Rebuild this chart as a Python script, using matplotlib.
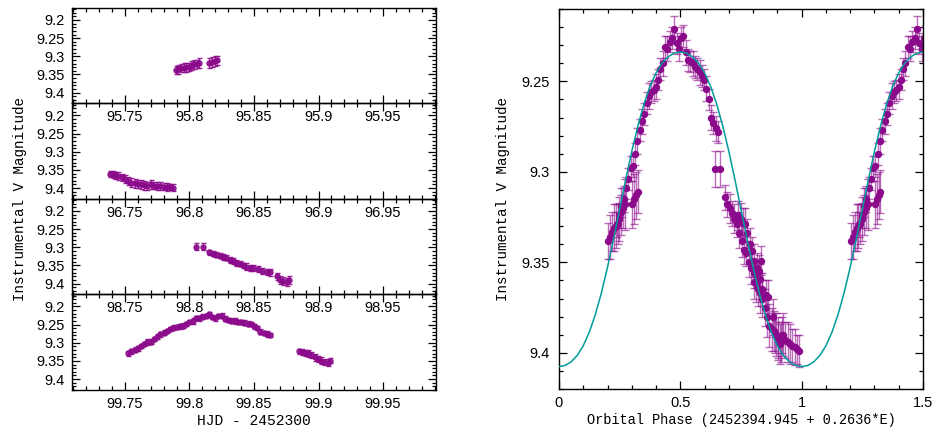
import matplotlib.pyplot as plt
import numpy as np
from matplotlib.ticker import MultipleLocator, FuncFormatter

# night of 95 (HJD - 2452300)
t1 = [95.7895, 95.7915, 95.7935, 95.7955, 95.7975, 95.7995, 95.8015, 95.8035, 95.8055, 95.8075,
      95.8155, 95.8175, 95.8195, 95.8212]
m1 = [9.338, 9.336, 9.333, 9.331, 9.330, 9.329, 9.326, 9.322, 9.320, 9.318,
      9.318, 9.315, 9.313, 9.311]
e1 = [0.010, 0.012, 0.011, 0.013, 0.012, 0.011, 0.012, 0.013, 0.011, 0.014,
      0.013, 0.014, 0.013, 0.012]

# night of 96
t2 = [96.7387, 96.7405, 96.7425, 96.7450, 96.7475, 96.7500, 96.7525, 96.7550, 96.7575, 96.7600,
      96.7625, 96.7650, 96.7675, 96.7700, 96.7725, 96.7750, 96.7775, 96.7800, 96.7825, 96.7850, 96.7869]
m2 = [9.361, 9.362, 9.365, 9.367, 9.370, 9.375, 9.380, 9.385, 9.387, 9.388,
      9.390, 9.392, 9.394, 9.390, 9.393, 9.394, 9.395, 9.396, 9.397, 9.398, 9.399]
e2 = [0.009, 0.010, 0.009, 0.011, 0.010, 0.010, 0.011, 0.012, 0.012, 0.011,
      0.012, 0.012, 0.011, 0.012, 0.010, 0.011, 0.011, 0.009, 0.010, 0.008, 0.009]

# night of 98
t3 = [98.8051, 98.8103, 98.8155, 98.8181, 98.8207, 98.8233, 98.8260, 98.8285, 98.8311, 98.8338,
      98.8363, 98.8389, 98.8416, 98.8442, 98.8467, 98.8494, 98.8533, 98.8559, 98.8598, 98.8624,
      98.8676, 98.8702, 98.8728, 98.8754, 98.8772]
m3 = [9.2986, 9.2986, 9.314, 9.318, 9.320, 9.323, 9.326, 9.329, 9.334, 9.338,
      9.343, 9.345, 9.350, 9.353, 9.356, 9.357, 9.359, 9.365, 9.368, 9.369,
      9.380, 9.389, 9.393, 9.395, 9.390]
e3 = [0.010, 0.010, 0.007, 0.007, 0.008, 0.007, 0.008, 0.007, 0.008, 0.009,
      0.008, 0.007, 0.008, 0.009, 0.008, 0.007, 0.008, 0.009, 0.008, 0.009,
      0.010, 0.011, 0.010, 0.011, 0.010]

# night of 99
t4 = [99.7525, 99.7550, 99.7575, 99.7600, 99.7625, 99.7650, 99.7675, 99.7700, 99.7725, 99.7750,
      99.7775, 99.7800, 99.7825, 99.7850, 99.7875, 99.7900, 99.7925, 99.7950, 99.7975, 99.8000,
      99.8025, 99.8050, 99.8075, 99.8100, 99.8125, 99.8150, 99.8175, 99.8200, 99.8225, 99.8250,
      99.8275, 99.8300, 99.8325, 99.8350, 99.8375, 99.8400, 99.8425, 99.8450, 99.8475, 99.8500,
      99.8525, 99.8550, 99.8575, 99.8600, 99.8625,
      99.8845, 99.8870, 99.8895, 99.8920, 99.8945, 99.8970, 99.8995, 99.9020, 99.9045, 99.9070, 99.9092]
m4 = [9.329, 9.324, 9.319, 9.315, 9.309, 9.304, 9.298, 9.297, 9.290, 9.283,
      9.277, 9.272, 9.268, 9.262, 9.258, 9.256, 9.255, 9.253, 9.249, 9.243,
      9.240, 9.231, 9.232, 9.228, 9.226, 9.221, 9.229, 9.232, 9.226, 9.225,
      9.234, 9.238, 9.239, 9.240, 9.242, 9.243, 9.245, 9.247, 9.249, 9.254,
      9.260, 9.270, 9.273, 9.276, 9.278,
      9.324, 9.326, 9.328, 9.329, 9.334, 9.340, 9.344, 9.349, 9.353, 9.355, 9.349]
e4 = [0.007, 0.007, 0.006, 0.007, 0.006, 0.006, 0.007, 0.006, 0.006, 0.007,
      0.006, 0.007, 0.006, 0.006, 0.007, 0.006, 0.006, 0.007, 0.006, 0.006,
      0.007, 0.006, 0.007, 0.006, 0.006, 0.007, 0.006, 0.007, 0.006, 0.006,
      0.007, 0.006, 0.006, 0.007, 0.006, 0.006, 0.007, 0.006, 0.006, 0.007,
      0.006, 0.007, 0.006, 0.007, 0.006,
      0.008, 0.009, 0.008, 0.009, 0.008, 0.009, 0.008, 0.009, 0.008, 0.009, 0.008]

days = [95, 96, 98, 99]

# model light curve
model_phase = [0.0, 0.025, 0.05, 0.075, 0.1, 0.125, 0.15, 0.175, 0.2, 0.225,
               0.25, 0.275, 0.3, 0.325, 0.35, 0.375, 0.4, 0.425, 0.45, 0.475,
               0.5, 0.525, 0.55, 0.575, 0.6, 0.625, 0.65, 0.675, 0.7, 0.725,
               0.75, 0.775, 0.8, 0.825, 0.85, 0.875, 0.9, 0.925, 0.95, 0.975,
               1.0, 1.025, 1.05, 1.075, 1.1, 1.125, 1.15, 1.175, 1.2, 1.225,
               1.25, 1.275, 1.3, 1.325, 1.35, 1.375, 1.4, 1.425, 1.45, 1.475, 1.5]
model_mag = [9.4076, 9.4070, 9.4050, 9.4015, 9.3961, 9.3886, 9.3788, 9.3668, 9.3527, 9.3371,
             9.3207, 9.3043, 9.2887, 9.2747, 9.2626, 9.2528, 9.2453, 9.2399, 9.2364, 9.2344,
             9.2338, 9.2344, 9.2364, 9.2399, 9.2453, 9.2528, 9.2626, 9.2747, 9.2887, 9.3043,
             9.3207, 9.3371, 9.3527, 9.3668, 9.3788, 9.3886, 9.3961, 9.4015, 9.4050, 9.4070,
             9.4076, 9.4070, 9.4050, 9.4015, 9.3961, 9.3886, 9.3788, 9.3668, 9.3527, 9.3371,
             9.3207, 9.3043, 9.2887, 9.2747, 9.2626, 9.2528, 9.2453, 9.2399, 9.2364, 9.2344, 9.2338]

T0 = 2452394.945 - 2452300
P = 0.2636

purple = '#8b0a8b'
teal = '#009b9b'
mono = 'Liberation Mono'
plt.rcParams['font.family'] = 'Liberation Sans'
plt.rcParams['font.size'] = 10.5

fmt = FuncFormatter(lambda v, p: '%g' % round(v, 4))


def style(ax):
    ax.tick_params(which='both', direction='in', top=True, right=True, width=0.9)
    ax.tick_params(which='major', length=6, pad=5)
    ax.tick_params(which='minor', length=3)
    for s in ax.spines.values():
        s.set_linewidth(1.0)
    ax.xaxis.set_major_formatter(fmt)
    ax.yaxis.set_major_formatter(fmt)


fig = plt.figure(figsize=(9.36, 4.28), dpi=100)

nights = [(t1, m1, e1), (t2, m2, e2), (t3, m3, e3), (t4, m4, e4)]
h = 0.2231
for i, (t, m, e) in enumerate(nights):
    ax = fig.add_axes([0.0769, 0.9813 - (i + 1) * h, 0.3889, h])
    ax.patch.set_visible(False)
    ax.errorbar(t, m, yerr=e, fmt='o', ms=3.6, color=purple, ecolor=purple,
                elinewidth=0.8, capsize=1.8, alpha=0.9)
    d = days[i]
    ax.set_xlim(d + 0.709, d + 0.991)
    ax.set_ylim(9.43, 9.167)
    ax.xaxis.set_major_locator(MultipleLocator(0.05))
    ax.xaxis.set_minor_locator(MultipleLocator(0.01))
    ax.yaxis.set_major_locator(MultipleLocator(0.05))
    ax.yaxis.set_minor_locator(MultipleLocator(0.01))
    style(ax)
    if i == 3:
        ax.set_xlabel('HJD - 2452300', family=mono, fontsize=10.5, labelpad=2)

fig.text(0.021, 0.535, 'Instrumental V Magnitude', rotation=90, family=mono,
         fontsize=10.3, ha='center', va='center')

# phased light curve
ax = fig.add_axes([0.5972, 0.0911, 0.3889, 0.8879])
for t, m, e in nights:
    ph = ((np.array(t) - T0) / P) % 1
    for shift in (0, 1):
        ax.errorbar(ph + shift, m, yerr=e, fmt='o', ms=4.3, color=purple,
                    ecolor=(0.55, 0.05, 0.55, 0.6), elinewidth=1.0, capsize=3,
                    capthick=1.0)
ax.plot(model_phase, model_mag, color=teal, lw=1.1, zorder=5)
ax.set_xlim(0, 1.5)
ax.set_ylim(9.42, 9.21)
ax.xaxis.set_major_locator(MultipleLocator(0.5))
ax.xaxis.set_minor_locator(MultipleLocator(0.1))
ax.yaxis.set_major_locator(MultipleLocator(0.05))
ax.yaxis.set_minor_locator(MultipleLocator(0.01))
style(ax)
ax.tick_params(axis='y', which='major', pad=7)
ax.set_xlabel('Orbital Phase (2452394.945 + 0.2636*E)', family=mono, fontsize=9.8, labelpad=2)
ax.set_ylabel('Instrumental V Magnitude', family=mono, fontsize=10.3, labelpad=8)

fig.savefig('out.png', dpi=100)
